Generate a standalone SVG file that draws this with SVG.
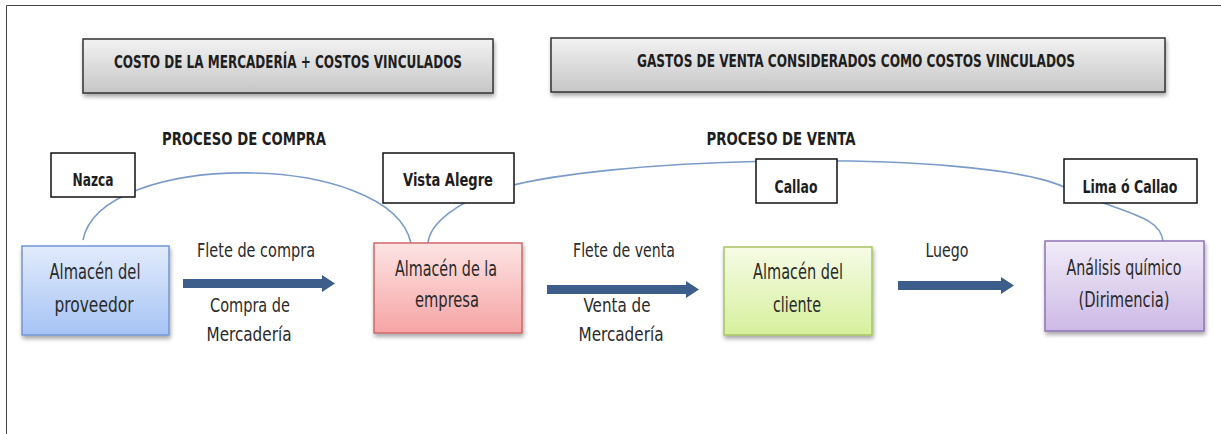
<svg xmlns="http://www.w3.org/2000/svg" width="1221" height="434" viewBox="0 0 1221 434">
<defs>
  <linearGradient id="gHead" x1="0" y1="0" x2="0" y2="1">
    <stop offset="0" stop-color="#f2f2f2"/><stop offset="1" stop-color="#c6c6c6"/>
  </linearGradient>
  <linearGradient id="gBlue" x1="0" y1="0" x2="0" y2="1">
    <stop offset="0" stop-color="#e2ebfc"/><stop offset="1" stop-color="#a6c3f5"/>
  </linearGradient>
  <linearGradient id="gRed" x1="0" y1="0" x2="0" y2="1">
    <stop offset="0" stop-color="#fde4e4"/><stop offset="1" stop-color="#f6a4a4"/>
  </linearGradient>
  <linearGradient id="gGreen" x1="0" y1="0" x2="0" y2="1">
    <stop offset="0" stop-color="#f6fbe6"/><stop offset="1" stop-color="#d6f09c"/>
  </linearGradient>
  <linearGradient id="gPurple" x1="0" y1="0" x2="0" y2="1">
    <stop offset="0" stop-color="#f1ecf8"/><stop offset="1" stop-color="#cdb9e6"/>
  </linearGradient>
  <filter id="shadow" x="-10%" y="-10%" width="130%" height="140%">
    <feDropShadow dx="1" dy="3" stdDeviation="2" flood-color="#000" flood-opacity="0.35"/>
  </filter>
</defs>
<style>
  text { font-family: "Liberation Sans Narrow", "DejaVu Sans Condensed", "Liberation Sans", sans-serif; fill: #1e1e1e; }
  .hdr { font-size: 18px; font-weight: bold; text-anchor: middle; }
  .proc { font-size: 18px; font-weight: bold; text-anchor: middle; }
  .loc { font-size: 17px; font-weight: bold; text-anchor: middle; }
  .box { font-size: 21px; text-anchor: middle; fill: #2a2a2a; }
  .lbl { font-size: 19px; text-anchor: middle; fill: #2a2a2a; }
  .headbox { fill: url(#gHead); stroke: #333; stroke-width: 1.5; filter: url(#shadow); }
  .locbox { fill: #fff; stroke: #111; stroke-width: 1.5; }
  .curve { fill: none; stroke: #7b9cc9; stroke-width: 1.6; }
  .arrow { fill: #3d5d8b; }
</style>

<!-- frame -->
<path d="M6.5,434 V5.5 H1221" fill="none" stroke="#444" stroke-width="1"/>

<!-- headers -->
<g id="header-costo">
  <rect class="headbox" x="83" y="39" width="410" height="54"/>
  <text class="hdr" x="288" y="68" textLength="348" lengthAdjust="spacingAndGlyphs">COSTO DE LA MERCADERÍA + COSTOS VINCULADOS</text>
</g>
<g id="header-gastos">
  <rect class="headbox" x="551" y="38" width="614" height="54"/>
  <text class="hdr" x="856" y="67" textLength="438" lengthAdjust="spacingAndGlyphs">GASTOS DE VENTA CONSIDERADOS COMO COSTOS VINCULADOS</text>
</g>

<text class="proc" x="244" y="145" textLength="164" lengthAdjust="spacingAndGlyphs">PROCESO DE COMPRA</text>
<text class="proc" x="781" y="145" textLength="149" lengthAdjust="spacingAndGlyphs">PROCESO  DE VENTA</text>

<!-- connectors -->
<g id="connectors">
  <path class="curve" d="M83,240 C100,150 390,150 411,243"/>
  <path class="curve" d="M428,243 C430,222 460,202 490,192 C590,155 980,148 1064,187 C1123,214 1160,215 1163,241"/>
  <path class="arrow" d="M183,279 H322 V275 L335,283.5 L322,292 V288 H183 Z"/>
  <path class="arrow" d="M547,285 H686 V281 L699,289.5 L686,298 V294 H547 Z"/>
  <path class="arrow" d="M898,281 H1001 V277 L1014,285.5 L1001,294 V290 H898 Z"/>
  <text class="lbl" x="256" y="257" textLength="118" lengthAdjust="spacingAndGlyphs">Flete de compra</text>
  <text class="lbl" x="250" y="312" textLength="80" lengthAdjust="spacingAndGlyphs">Compra de</text>
  <text class="lbl" x="249" y="341" textLength="85" lengthAdjust="spacingAndGlyphs">Mercadería</text>
  <text class="lbl" x="624" y="257" textLength="102" lengthAdjust="spacingAndGlyphs">Flete de venta</text>
  <text class="lbl" x="617" y="312" textLength="67" lengthAdjust="spacingAndGlyphs">Venta de</text>
  <text class="lbl" x="621" y="341" textLength="85" lengthAdjust="spacingAndGlyphs">Mercadería</text>
  <text class="lbl" x="947" y="257" textLength="43" lengthAdjust="spacingAndGlyphs">Luego</text>
</g>

<!-- location nodes -->
<g id="loc-nazca">
  <rect class="locbox" x="51" y="153" width="84" height="44"/>
  <text class="loc" x="93" y="186" textLength="41" lengthAdjust="spacingAndGlyphs">Nazca</text>
</g>
<g id="loc-vista-alegre">
  <rect class="locbox" x="383" y="153" width="131" height="50"/>
  <text class="loc" x="448" y="186" textLength="90" lengthAdjust="spacingAndGlyphs">Vista Alegre</text>
</g>
<g id="loc-callao">
  <rect class="locbox" x="756" y="159" width="81" height="44"/>
  <text class="loc" x="796" y="193" textLength="43" lengthAdjust="spacingAndGlyphs">Callao</text>
</g>
<g id="loc-lima-callao">
  <rect class="locbox" x="1064" y="159" width="133" height="44"/>
  <text class="loc" x="1130" y="193" textLength="95" lengthAdjust="spacingAndGlyphs">Lima ó Callao</text>
</g>

<!-- process nodes -->
<g id="node-proveedor">
  <rect x="22" y="246" width="147" height="89" fill="url(#gBlue)" stroke="#7197d4" stroke-width="1.5" filter="url(#shadow)"/>
  <text class="box" x="95" y="279" textLength="91" lengthAdjust="spacingAndGlyphs">Almacén del</text>
  <text class="box" x="94" y="312" textLength="79" lengthAdjust="spacingAndGlyphs">proveedor</text>
</g>
<g id="node-empresa">
  <rect x="374" y="243" width="148" height="90" fill="url(#gRed)" stroke="#d06a6a" stroke-width="1.5" filter="url(#shadow)"/>
  <text class="box" x="446" y="276" textLength="102" lengthAdjust="spacingAndGlyphs">Almacén de la</text>
  <text class="box" x="447" y="307" textLength="64" lengthAdjust="spacingAndGlyphs">empresa</text>
</g>
<g id="node-cliente">
  <rect x="724" y="247" width="148" height="88" fill="url(#gGreen)" stroke="#a8c462" stroke-width="1.5" filter="url(#shadow)"/>
  <text class="box" x="798" y="279" textLength="90" lengthAdjust="spacingAndGlyphs">Almacén del</text>
  <text class="box" x="797" y="312" textLength="48" lengthAdjust="spacingAndGlyphs">cliente</text>
</g>
<g id="node-analisis">
  <rect x="1045" y="241" width="159" height="90" fill="url(#gPurple)" stroke="#8d74b3" stroke-width="1.5" filter="url(#shadow)"/>
  <text class="box" x="1124" y="275" textLength="115" lengthAdjust="spacingAndGlyphs">Análisis químico</text>
  <text class="box" x="1124" y="307" textLength="91" lengthAdjust="spacingAndGlyphs">(Dirimencia)</text>
</g>
</svg>
